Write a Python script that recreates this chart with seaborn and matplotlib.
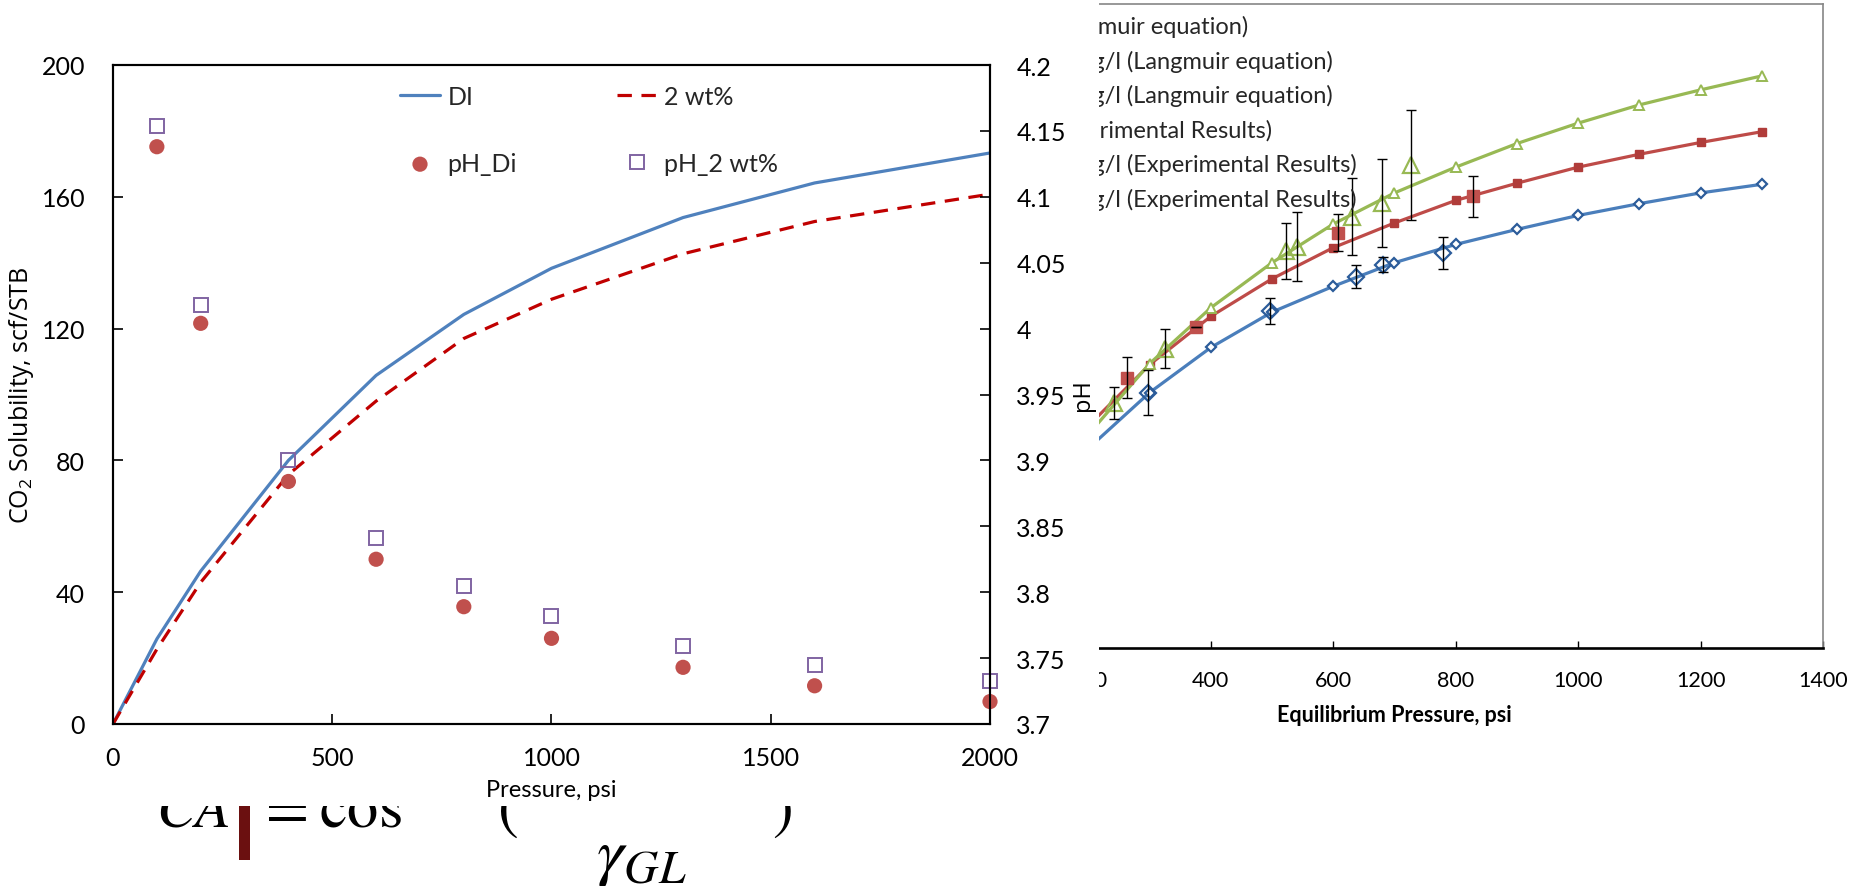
import numpy as np
import seaborn as sns
import matplotlib.pyplot as plt
from matplotlib.patches import Rectangle
from matplotlib.ticker import FuncFormatter

# --- left chart: CO2 solubility (lines) and pH (points) vs pressure
pressure_sol = [0, 100, 200, 400, 600, 800, 1000, 1300, 1600, 2000]
sol_di = [0, 25.8, 46.4, 80.0, 105.8, 124.3, 138.3, 153.7, 164.2, 173.3]
sol_2wt = [0, 22.7, 43.0, 75.7, 98.0, 117.0, 128.9, 142.7, 152.5, 160.8]

pressure_ph = [100, 200, 400, 600, 800, 1000, 1300, 1600, 2000]
ph_di = [4.138, 4.004, 3.884, 3.825, 3.789, 3.765, 3.743, 3.729, 3.717]
ph_2wt = [4.154, 4.018, 3.900, 3.841, 3.805, 3.782, 3.759, 3.745, 3.733]

# --- right chart: pH vs equilibrium pressure (model curves + experiments)
p_model = [200, 300, 400, 500, 600, 700, 800, 900, 1000, 1100, 1200, 1300]
ph_model_di = [3.786, 3.838, 3.880, 3.913, 3.937, 3.959, 3.976, 3.990, 4.003, 4.014, 4.024, 4.032]
ph_model_1000 = [3.807, 3.864, 3.909, 3.944, 3.973, 3.996, 4.017, 4.033, 4.048, 4.060, 4.071, 4.081]
ph_model_2000 = [3.799, 3.865, 3.917, 3.959, 3.995, 4.024, 4.048, 4.070, 4.089, 4.106, 4.120, 4.133]

p_exp_di = [298, 496, 637, 682, 780]
ph_exp_di = [3.838, 3.914, 3.946, 3.957, 3.968]
err_exp_di = [0.021, 0.012, 0.011, 0.007, 0.015]

p_exp_1000 = [263, 376, 607, 829]
ph_exp_1000 = [3.852, 3.899, 3.987, 4.021]
err_exp_1000 = [0.019, 0.0, 0.017, 0.019]

p_exp_2000 = [242, 325, 522, 540, 631, 679, 727]
ph_exp_2000 = [3.828, 3.879, 3.970, 3.974, 4.002, 4.015, 4.050]
err_exp_2000 = [0.015, 0.018, 0.026, 0.032, 0.036, 0.041, 0.051]

right_labels = ['DI (Langmuir equation)', '1000 mg/l (Langmuir equation)',
                '2000 mg/l (Langmuir equation)', 'DI (Experimental Results)',
                '1000 mg/l (Experimental Results)', '2000 mg/l (Experimental Results)']

sns.set_theme(style='white')
plt.rcParams['font.family'] = ['Lato', 'DejaVu Sans']
plt.rcParams['axes.unicode_minus'] = False

W, H = 1865, 887
fig = plt.figure(figsize=(W / 100, H / 100), dpi=100)
fig.patch.set_facecolor('white')


def px_box(x0, y0, x1, y1):
    # pixel box (from top-left) -> figure fraction rect
    return [x0 / W, 1 - y1 / H, (x1 - x0) / W, (y1 - y0) / H]


# ================= right chart (partly hidden behind the left one)
ax_r = fig.add_axes(px_box(966, 5, 1823, 649), zorder=0)
blue, red, green = '#4A7EBB', '#BE4B48', '#98B954'

sns.lineplot(x=p_model, y=ph_model_di, ax=ax_r, color=blue, lw=2.3, marker='D', markersize=5.5,
             markerfacecolor='white', markeredgecolor='#2C5C9A', markeredgewidth=1.6, legend=False)
sns.lineplot(x=p_model, y=ph_model_1000, ax=ax_r, color=red, lw=2.3, marker='s', markersize=6,
             markerfacecolor='#B03C3A', markeredgecolor='#B03C3A', markeredgewidth=1, legend=False)
sns.lineplot(x=p_model, y=ph_model_2000, ax=ax_r, color=green, lw=2.3, marker='^', markersize=6.5,
             markerfacecolor='white', markeredgecolor=green, markeredgewidth=1.4, legend=False)
model_lines = ax_r.get_lines()[:3]

for px, py, pe in [(p_exp_di, ph_exp_di, err_exp_di), (p_exp_1000, ph_exp_1000, err_exp_1000),
                   (p_exp_2000, ph_exp_2000, err_exp_2000)]:
    ax_r.errorbar(px, py, yerr=pe, fmt='none', ecolor='black', elinewidth=1,
                  capsize=3.5, capthick=1, zorder=5)
e_di, = ax_r.plot(p_exp_di, ph_exp_di, ls='none', marker='D', ms=8, mfc='none', mec='#2C5C9A', mew=1.6, zorder=4)
e_1000, = ax_r.plot(p_exp_1000, ph_exp_1000, ls='none', marker='s', ms=8, mfc='#C0504D', mec='#C0504D', zorder=4)
e_2000, = ax_r.plot(p_exp_2000, ph_exp_2000, ls='none', marker='^', ms=11, mfc='none', mec=green, mew=1.6, zorder=4)

ax_r.set_xlim(0, 1400)
ax_r.set_ylim(3.6, 4.2)
ax_r.set_xticks(range(0, 1401, 200))
ax_r.tick_params(axis='x', direction='in', length=5, width=1, labelsize=15.5, pad=16, bottom=True, colors='black')
ax_r.tick_params(axis='y', left=False, labelleft=False)
ax_r.spines['left'].set_visible(False)
ax_r.spines['bottom'].set_color('black')
ax_r.spines['bottom'].set_linewidth(1.9)
for s in ['top', 'right']:
    ax_r.spines[s].set_color('#868686')
    ax_r.spines[s].set_linewidth(1.2)
ax_r.set_xlabel('Equilibrium Pressure, psi', fontweight='bold', fontsize=15.5, labelpad=10, color='black')
ax_r.set_ylabel('')

leg_r = ax_r.legend(list(model_lines) + [e_di, e_1000, e_2000], right_labels, loc='upper left',
                    bbox_to_anchor=(1000 / W, 1 - 10 / H), bbox_transform=fig.transFigure,
                    frameon=False, fontsize=17, labelspacing=0.53, borderpad=0, borderaxespad=0,
                    handletextpad=0.5)

# ================= text fragments below the left chart
eq_kw = dict(math_fontfamily='stix', color='black', zorder=1, va='baseline')
fig.text(156 / W, 1 - 827 / H, r'$CA$', fontsize=42, **eq_kw)
fig.text(256 / W, 1 - 827 / H, r'$=$', fontsize=45, **eq_kw)
fig.text(319 / W, 1 - 827 / H, r'$\cos$', fontsize=45, **eq_kw)
fig.text(497 / W, 1 - 827 / H, r'$($', fontsize=45, **eq_kw)
fig.text(772 / W, 1 - 827 / H, r'$)$', fontsize=45, **eq_kw)
fig.text(596 / W, 1 - 874 / H, r'$\gamma_{GL}$', fontsize=49, **eq_kw)
fig.add_artist(Rectangle((239 / W, 1 - 861 / H), 11 / W, 61 / H, transform=fig.transFigure,
                         facecolor='#6B1010', edgecolor='none', zorder=1))

# white area of the left chart covering the right one
fig.add_artist(Rectangle((0, 1 - 807 / H), 1099 / W, 807 / H, transform=fig.transFigure,
                         facecolor='white', edgecolor='none', zorder=2))

# ================= left chart
ax_l = fig.add_axes(px_box(113, 66, 990, 725), zorder=3)
sns.lineplot(x=pressure_sol, y=sol_di, ax=ax_l, color='#4F81BD', lw=2.3, legend=False)
sns.lineplot(x=pressure_sol, y=sol_2wt, ax=ax_l, color='#C00000', lw=2.3, linestyle=(0, (4.5, 3.0)), legend=False)
line_di, line_2wt = ax_l.get_lines()[:2]

ax_l2 = ax_l.twinx()
ax_l2.set_zorder(4)
sns.scatterplot(x=pressure_ph, y=ph_di, ax=ax_l2, color='#C0504D', s=120, edgecolor='none',
                legend=False, clip_on=False)
circ = ax_l2.collections[0]
sq, = ax_l2.plot(pressure_ph, ph_2wt, ls='none', marker='s', ms=9.5, mfc='none', mec='#8064A2',
                 mew=1.4, clip_on=False)

ax_l.set_xlim(0, 2000)
ax_l.set_ylim(0, 200)
ax_l.set_xticks(range(0, 2001, 500))
ax_l.set_yticks(range(0, 201, 40))
ax_l.tick_params(axis='both', direction='in', length=7, width=1.2, labelsize=18, colors='black',
                 bottom=True, left=True)
ax_l.tick_params(axis='x', pad=16)
ax_l.tick_params(axis='y', pad=20)
ax_l2.set_ylim(3.7, 4.2)
ax_l2.set_yticks(np.arange(3.7, 4.2001, 0.05))
ax_l2.yaxis.set_major_formatter(FuncFormatter(lambda v, _: f'{round(v, 2):g}'))
ax_l2.tick_params(axis='y', direction='in', length=7, width=1.2, labelsize=18, pad=19, right=True,
                  colors='black')
for a in (ax_l, ax_l2):
    for s in a.spines.values():
        s.set_color('black')
        s.set_linewidth(1.5)

ax_l.set_xlabel('Pressure, psi', fontsize=17, labelpad=7, color='black')
ax_l.set_ylabel('CO$_\\mathregular{2}$ Solubility, scf/STB', fontsize=18, labelpad=4, color='black',
                fontfamily=['Open Sans', 'DejaVu Sans'])
ax_l2.set_ylabel('pH', fontsize=17, labelpad=4, color='black', fontfamily=['Open Sans', 'DejaVu Sans'])

ax_l2.legend([line_di, circ, line_2wt, sq], ['DI', 'pH_Di', '2 wt%', 'pH_2 wt%'], ncol=2,
             loc='upper left', bbox_to_anchor=(400 / W, 1 - 86 / H), bbox_transform=fig.transFigure,
             frameon=False, fontsize=18, handlelength=1.6, handletextpad=0.3, columnspacing=4.0,
             labelspacing=1.75, borderpad=0, borderaxespad=0)

# put the right-hand legend so that its second row ends where the reference one does
fig.canvas.draw()
rend = fig.canvas.get_renderer()
bb2 = leg_r.get_texts()[1].get_window_extent(rend)
bb0 = leg_r.get_texts()[0].get_window_extent(rend)
dx = 1333 - bb2.x1
dy = (H - 27) - (bb0.y0 + bb0.y1) / 2
leg_r.set_bbox_to_anchor((1000 / W + dx / W, 1 - 10 / H + dy / H), transform=fig.transFigure)

fig.savefig('out.png', dpi=100)
